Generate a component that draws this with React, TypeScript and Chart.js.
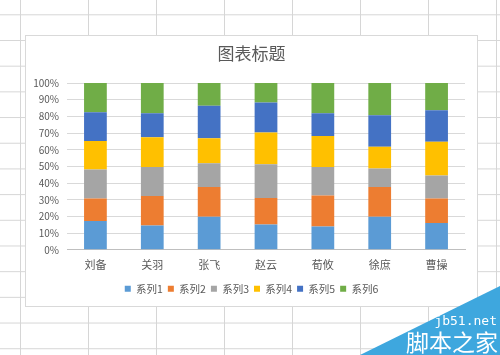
import React, { useEffect, useRef } from "react";
import { Chart, registerables } from "chart.js";

Chart.register(...registerables);

const categories = ["刘备", "关羽", "张飞", "赵云", "荀攸", "徐庶", "曹操"];
const seriesNames = ["系列1", "系列2", "系列3", "系列4", "系列5", "系列6"];
const series1 = [17.2, 14.5, 19.8, 15.2, 13.9, 19.8, 16.0];
const series2 = [13.5, 17.8, 17.8, 15.9, 18.6, 17.8, 14.7];
const series3 = [17.4, 17.4, 14.3, 20.2, 17.2, 11.1, 13.9];
const series4 = [17.2, 17.8, 15.0, 19.0, 18.6, 13.1, 20.2];
const series5 = [17.1, 14.3, 19.4, 18.0, 13.5, 18.8, 18.8];
const series6 = [17.6, 18.2, 13.7, 11.7, 18.2, 19.4, 16.4];
const seriesColors = ["#5B9BD5", "#ED7D31", "#A5A5A5", "#FFC000", "#4472C4", "#70AD47"];
const yTicks = [0, 10, 20, 30, 40, 50, 60, 70, 80, 90, 100];
const title = "图表标题";

const FONT = "'Noto Sans CJK SC', 'Microsoft YaHei', sans-serif";

export default function App() {
  const ref = useRef<HTMLCanvasElement | null>(null);

  useEffect(() => {
    if (!ref.current) return;
    const all = [series1, series2, series3, series4, series5, series6];
    const totals = categories.map((_, i) => all.reduce((s, a) => s + a[i], 0));
    const datasets = all.map((arr, k) => ({
      label: seriesNames[k],
      data: arr.map((v, i) => (v / totals[i]) * 100),
      backgroundColor: seriesColors[k],
      borderWidth: 0,
      barPercentage: 0.4,
      categoryPercentage: 1,
      yAxisID: "y",
    }));
    const chart = new Chart(ref.current, {
      type: "bar",
      data: { labels: categories, datasets },
      options: {
        responsive: false,
        animation: false,
        devicePixelRatio: 1,
        layout: { padding: { left: 0, right: 0, top: 0, bottom: 2 } },
        plugins: {
          title: {
            display: true,
            text: title,
            color: "#595959",
            font: { family: FONT, size: 17, weight: "normal" },
            padding: { top: 7, bottom: 19.6 },
          },
          legend: {
            position: "bottom",
            labels: {
              boxWidth: 6,
              boxHeight: 6,
              padding: 5,
              color: "#595959",
              font: { family: FONT, size: 10.5 },
            },
          },
          tooltip: { enabled: false },
        },
        scales: {
          x: {
            stacked: true,
            grid: { display: false, drawTicks: false },
            border: { display: true, color: "#bfbfbf" },
            ticks: { color: "#595959", font: { family: FONT, size: 11 }, padding: 8 },
            afterFit: (s: any) => {
              s.height = 28.7;
            },
          },
          y: {
            stacked: true,
            min: 0,
            max: 100,
            afterBuildTicks: (s: any) => {
              s.ticks = yTicks.map((v) => ({ value: v }));
            },
            grid: { color: "#d9d9d9", drawTicks: false },
            border: { display: false },
            ticks: {
              color: "#595959",
              font: { family: FONT, size: 10 },
              padding: 8,
              callback: (v: any) => v + "%",
            },
            afterFit: (s: any) => {
              s.width = 41;
            },
          },
          yRight: {
            position: "right",
            min: 0,
            max: 100,
            grid: { display: false, drawTicks: false },
            border: { display: false },
            ticks: { display: false },
            afterFit: (s: any) => {
              s.width = 12;
            },
          },
        },
      },
    });
    return () => chart.destroy();
  }, []);

  const bg: React.CSSProperties = {
    position: "fixed",
    left: 0,
    top: 0,
    width: 500,
    height: 355,
    overflow: "hidden",
    backgroundColor: "#ffffff",
    backgroundImage:
      "linear-gradient(to right, #d6d6d6 1px, transparent 1px), linear-gradient(to bottom, #d6d6d6 1px, transparent 1px)",
    backgroundSize: "68px 25.7px",
    backgroundPosition: "20px 14.3px",
  };

  return (
    <div style={bg}>
      <div
        style={{
          position: "absolute",
          left: 25,
          top: 35,
          width: 451,
          height: 270,
          background: "#fff",
          border: "1px solid #d9d9d9",
        }}
      >
        <canvas ref={ref} width={451} height={270} style={{ display: "block" }} />
      </div>
      <div
        style={{
          position: "absolute",
          left: 0,
          top: 0,
          width: 500,
          height: 355,
          background: "#3ea7de",
          clipPath: "polygon(360px 355px, 500px 286px, 500px 355px)",
        }}
      />
      <div
        style={{
          position: "absolute",
          right: 3,
          top: 314,
          color: "#fff",
          fontFamily: "'DejaVu Sans Mono', monospace",
          fontSize: 13,
          lineHeight: "14px",
        }}
      >
        jb51.net
      </div>
      <div
        style={{
          position: "absolute",
          right: 2,
          top: 328,
          color: "#fff",
          fontFamily: FONT,
          fontSize: 23,
          lineHeight: "26px",
        }}
      >
        脚本之家
      </div>
    </div>
  );
}
